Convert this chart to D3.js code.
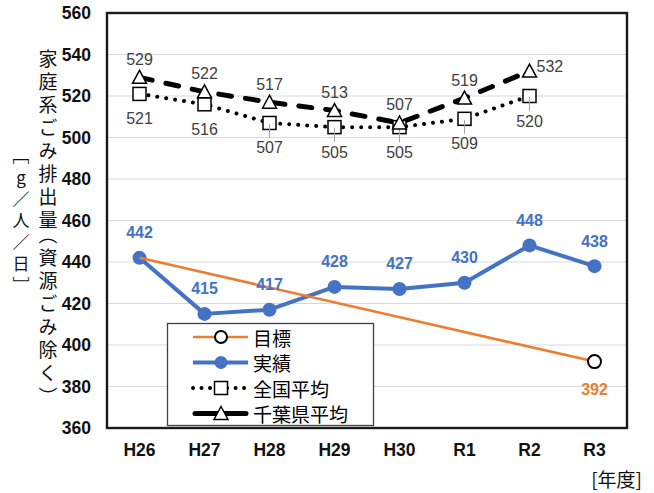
<!DOCTYPE html>
<html>
<head>
<meta charset="utf-8">
<script src="https://cdn.jsdelivr.net/npm/d3@7"></script>
<style>
  html, body { margin: 0; padding: 0; background: #ffffff; }
  svg { display: block; }
</style>
</head>
<body>
<svg id="chart" width="654" height="493"></svg>
<script>
// ---------- data ----------
const categories = ["H26", "H27", "H28", "H29", "H30", "R1", "R2", "R3"];
const targetValues = [442, null, null, null, null, null, null, 392];
const actualValues = [442, 415, 417, 428, 427, 430, 448, 438];
const nationalValues = [521, 516, 507, 505, 505, 509, 520, null];
const chibaValues = [529, 522, 517, 513, 507, 519, 532, null];
const yTicks = [360, 380, 400, 420, 440, 460, 480, 500, 520, 540, 560];
const legendLabels = ["目標", "実績", "全国平均", "千葉県平均"];
const yTitle = "家庭系ごみ排出量（資源ごみ除く）";
const yUnit = "［g／人／日］";
const xUnit = "[年度]";

// ---------- styles ----------
const BLUE = "#4472C4", ORANGE = "#ED7D31", GRAY_LABEL = "#404040";
const NUM_FONT = "'Liberation Sans', Arial, sans-serif";
const JP_FONT = "'Noto Sans CJK JP', 'Noto Sans', sans-serif";

const svg = d3.select("#chart");
const plot = { left: 107, top: 13, right: 627, bottom: 428 };

const x = d3.scaleBand().domain(categories).range([plot.left, plot.right]).padding(0);
const cx = c => x(c) + x.bandwidth() / 2;
const y = d3.scaleLinear().domain([360, 560]).range([plot.bottom, plot.top]);

// gridlines
svg.append("g").selectAll("line").data(yTicks.filter(t => t > 360 && t < 560)).join("line")
  .attr("x1", plot.left).attr("x2", plot.right)
  .attr("y1", d => y(d)).attr("y2", d => y(d))
  .attr("stroke", "#d9d9d9").attr("stroke-width", 1.2);

// y axis
const yAxis = d3.axisLeft(y).tickValues(yTicks).tickSize(0).tickPadding(16);
const gy = svg.append("g").attr("transform", `translate(${plot.left},0)`).call(yAxis);
gy.select(".domain").remove();
gy.selectAll("text").attr("font-family", NUM_FONT).attr("font-size", 17.5)
  .attr("font-weight", "bold").attr("fill", "#111");

// x axis
const xAxis = d3.axisBottom(x).tickSize(0).tickPadding(16);
const gx = svg.append("g").attr("transform", `translate(0,${plot.bottom})`).call(xAxis);
gx.select(".domain").remove();
gx.selectAll("text").attr("font-family", NUM_FONT).attr("font-size", 17.5)
  .attr("font-weight", "bold").attr("fill", "#111");

// plot frame
svg.append("rect").attr("x", plot.left).attr("y", plot.top)
  .attr("width", plot.right - plot.left).attr("height", plot.bottom - plot.top)
  .attr("fill", "none").attr("stroke", "#1a1a1a").attr("stroke-width", 2.4);

// helpers
const pts = vals => vals.map((v, i) => ({ c: categories[i], v, i })).filter(d => d.v != null);
const line = d3.line().x(d => cx(d.c)).y(d => y(d.v));
const triPath = (px, py, s) => `M${px},${py - s}L${px + s},${py + s * 0.85}L${px - s},${py + s * 0.85}Z`;

// national average (dotted + squares)
const nat = pts(nationalValues);
svg.append("path").attr("d", line(nat)).attr("fill", "none").attr("stroke", "#000")
  .attr("stroke-width", 4).attr("stroke-dasharray", "0.01 9").attr("stroke-linecap", "round");

// chiba average (dashed + triangles)
const chi = pts(chibaValues);
svg.append("path").attr("d", line(chi)).attr("fill", "none").attr("stroke", "#000")
  .attr("stroke-width", 5).attr("stroke-dasharray", "13 14").attr("stroke-linecap", "round");

svg.append("g").selectAll("rect").data(nat).join("rect")
  .attr("x", d => cx(d.c) - 6.5).attr("y", d => y(d.v) - 6.5)
  .attr("width", 13).attr("height", 13)
  .attr("fill", "#fff").attr("stroke", "#000").attr("stroke-width", 1.5);

// leader lines for national labels
svg.append("g").selectAll("line").data(nat.filter(d => d.i >= 2)).join("line")
  .attr("x1", d => cx(d.c)).attr("x2", d => cx(d.c))
  .attr("y1", d => y(d.v) + 1).attr("y2", d => y(d.v) + 15)
  .attr("stroke", "#a6a6a6").attr("stroke-width", 1);

svg.append("g").selectAll("path").data(chi).join("path")
  .attr("d", d => triPath(cx(d.c), y(d.v), 7))
  .attr("fill", "#fff").attr("stroke", "#000").attr("stroke-width", 1.5);

// actual (blue)
const act = pts(actualValues);
svg.append("path").attr("d", line(act)).attr("fill", "none").attr("stroke", BLUE)
  .attr("stroke-width", 4).attr("stroke-linejoin", "round");
svg.append("g").selectAll("circle").data(act).join("circle")
  .attr("cx", d => cx(d.c)).attr("cy", d => y(d.v)).attr("r", 7).attr("fill", BLUE);

// target (orange)
const tgt = pts(targetValues);
svg.append("path").attr("d", line(tgt)).attr("fill", "none").attr("stroke", ORANGE)
  .attr("stroke-width", 2.6);
svg.append("g").selectAll("circle").data(tgt.slice(-1)).join("circle")
  .attr("cx", d => cx(d.c)).attr("cy", d => y(d.v)).attr("r", 6.5)
  .attr("fill", "#fff").attr("stroke", "#000").attr("stroke-width", 2);

// ---------- data labels ----------
const lbl = svg.append("g").attr("font-family", NUM_FONT).attr("font-size", 16)
  .attr("dominant-baseline", "central");

lbl.selectAll("text.chi").data(chi).join("text").attr("class", "chi")
  .attr("x", d => d.i === chi.length - 1 ? cx(d.c) + 7 : cx(d.c))
  .attr("y", d => d.i === chi.length - 1 ? y(d.v) - 5 : y(d.v) - 18)
  .attr("text-anchor", d => d.i === chi.length - 1 ? "start" : "middle")
  .attr("fill", GRAY_LABEL).text(d => d.v);

lbl.selectAll("text.nat").data(nat).join("text").attr("class", "nat")
  .attr("x", d => cx(d.c)).attr("y", d => y(d.v) + 25)
  .attr("text-anchor", "middle").attr("fill", GRAY_LABEL).text(d => d.v);

lbl.selectAll("text.act").data(act).join("text").attr("class", "act")
  .attr("x", d => cx(d.c)).attr("y", d => y(d.v) - 25)
  .attr("text-anchor", "middle").attr("fill", BLUE).attr("font-weight", "bold").text(d => d.v);

lbl.selectAll("text.tgt").data(tgt.slice(-1)).join("text").attr("class", "tgt")
  .attr("x", d => cx(d.c)).attr("y", d => y(d.v) + 28)
  .attr("text-anchor", "middle").attr("fill", ORANGE).attr("font-weight", "bold").text(d => d.v);

// ---------- legend ----------
const lg = svg.append("g");
lg.append("rect").attr("x", 167.5).attr("y", 323.5).attr("width", 206).attr("height", 102)
  .attr("fill", "#fff").attr("stroke", "#404040").attr("stroke-width", 1.3);
const rowY = i => 337 + i * 25.5;
const sx1 = 193, sx2 = 248, smx = 221;
// target
lg.append("line").attr("x1", sx1).attr("x2", sx2).attr("y1", rowY(0)).attr("y2", rowY(0))
  .attr("stroke", ORANGE).attr("stroke-width", 2.6);
lg.append("circle").attr("cx", smx).attr("cy", rowY(0)).attr("r", 6)
  .attr("fill", "#fff").attr("stroke", "#000").attr("stroke-width", 2);
// actual
lg.append("line").attr("x1", sx1).attr("x2", sx2).attr("y1", rowY(1)).attr("y2", rowY(1))
  .attr("stroke", BLUE).attr("stroke-width", 4);
lg.append("circle").attr("cx", smx).attr("cy", rowY(1)).attr("r", 6.5).attr("fill", BLUE);
// national
lg.append("line").attr("x1", sx1).attr("x2", sx2).attr("y1", rowY(2)).attr("y2", rowY(2))
  .attr("stroke", "#000").attr("stroke-width", 4).attr("stroke-dasharray", "0.01 8.5")
  .attr("stroke-linecap", "round");
lg.append("rect").attr("x", smx - 6.5).attr("y", rowY(2) - 6.5).attr("width", 13).attr("height", 13)
  .attr("fill", "#fff").attr("stroke", "#000").attr("stroke-width", 1.5);
// chiba
lg.append("line").attr("x1", sx1 + 2).attr("x2", sx2 - 2).attr("y1", rowY(3)).attr("y2", rowY(3))
  .attr("stroke", "#000").attr("stroke-width", 5).attr("stroke-linecap", "round");
lg.append("path").attr("d", triPath(smx, rowY(3), 7))
  .attr("fill", "#fff").attr("stroke", "#000").attr("stroke-width", 1.5);
lg.selectAll("text").data(legendLabels).join("text")
  .attr("x", 253).attr("y", (d, i) => rowY(i)).attr("dominant-baseline", "central")
  .attr("font-family", JP_FONT).attr("font-size", 19).attr("fill", "#000").text(d => d);

// ---------- axis titles (vertical writing mode, one text element each) ----------
const brackets = "（）［］";
function verticalText(str, xc, firstCenter, adv, bAdv, size, orient) {
  const chars = Array.from(str);
  const tops = [];
  let c = firstCenter;
  chars.forEach((ch, k) => {
    const isB = brackets.includes(ch);
    if (k > 0) {
      const prevB = brackets.includes(chars[k - 1]);
      c += (prevB ? bAdv : adv) / 2 + (isB ? bAdv : adv) / 2;
    }
    // glyph box top: brackets' vertical glyphs sit in half of the em box
    let top = c - size / 2;
    if (ch === "（" || ch === "［") top = c - size * 0.75;
    if (ch === "）" || ch === "］") top = c - size * 0.25;
    tops.push(top.toFixed(1));
  });
  svg.append("text")
    .attr("x", xc).attr("y", tops.join(" "))
    .attr("font-family", JP_FONT).attr("font-size", size).attr("fill", "#111")
    .style("writing-mode", "vertical-rl")
    .style("text-orientation", orient)
    .text(str);
}
verticalText(yTitle, 48, 59, 23, 15, 19, "mixed");
verticalText(yUnit, 21, 160, 21.5, 14, 17, "upright");

svg.append("text").attr("x", 642).attr("y", 478).attr("text-anchor", "end")
  .attr("dominant-baseline", "central").attr("font-family", JP_FONT)
  .attr("font-size", 19).attr("fill", "#111").text(xUnit);
</script>
</body>
</html>
